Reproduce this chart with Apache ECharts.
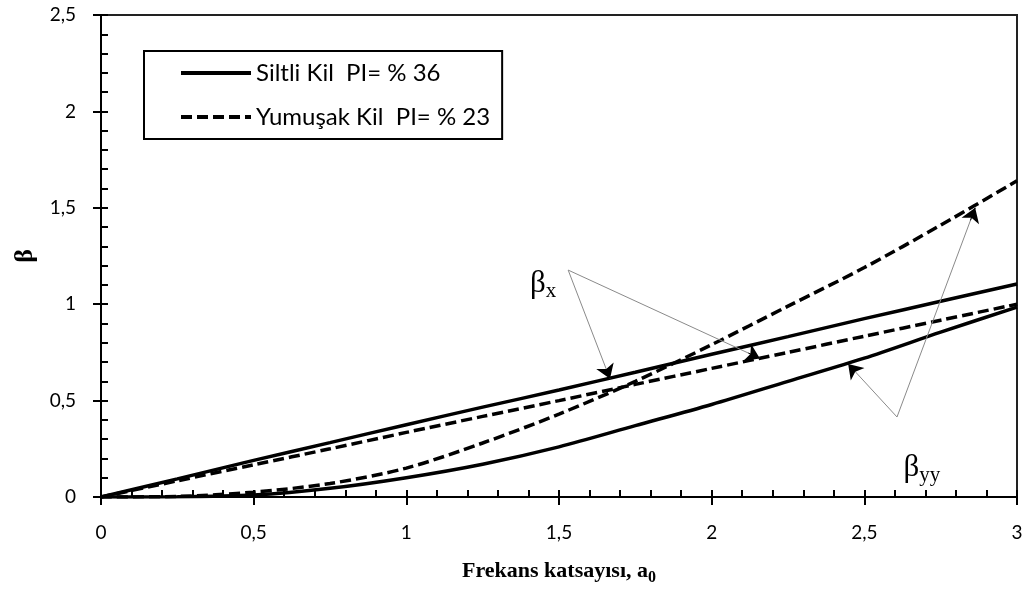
<!DOCTYPE html>
<html><head><meta charset="utf-8">
<script src="https://cdn.jsdelivr.net/npm/echarts@6/dist/echarts.min.js"></script>
<style>html,body{margin:0;padding:0;background:#fff}#c{width:1028px;height:601px}</style>
</head><body><div id="c"></div><script>
// Frequency coefficient a0
const freq = [0, 0.25, 0.5, 0.75, 1, 1.25, 1.5, 1.75, 2, 2.25, 2.5, 2.75, 3];
// Siltli Kil PI = % 36 (solid)
const siltliBetaX  = [0, 0.094, 0.19, 0.282, 0.375, 0.466, 0.555, 0.647, 0.74, 0.832, 0.925, 1.015, 1.105];
const siltliBetaYY = [0, 0.001, 0.01, 0.045, 0.10, 0.17, 0.26, 0.37, 0.48, 0.60, 0.72, 0.855, 0.985];
// Yumuşak Kil PI = % 23 (dashed)
const yumusakBetaX  = [0, 0.084, 0.167, 0.25, 0.335, 0.418, 0.50, 0.584, 0.667, 0.75, 0.834, 0.917, 1.0];
const yumusakBetaYY = [0, 0.003, 0.025, 0.07, 0.15, 0.28, 0.43, 0.60, 0.79, 0.99, 1.19, 1.41, 1.64];

const xTickLabels = ['0', '0,5', '1', '1,5', '2', '2,5', '3'];
const yTickLabels = ['0', '0,5', '1', '1,5', '2', '2,5'];
const seriesNames = ['Siltli Kil  PI= % 36', 'Yumuşak Kil  PI= % 23'];
const xAxisTitle = 'Frekans katsayısı, a';
const xAxisTitleSub = '0';
const yAxisTitle = 'β';

// annotation callouts (data coordinates)
const calloutX  = { text: 'x',  at: [1.405, 1.19], from: [1.53, 1.177],  to: [[1.667, 0.613], [2.158, 0.719]] };
const calloutYY = { text: 'yy', at: [2.628, 0.235], from: [2.607, 0.415], to: [[2.447, 0.69], [2.863, 1.50]] };

const pair = (xs, ys) => xs.map((x, i) => [x, ys[i]]);
const fmt = (labels) => (v) => { const i = Math.round(v / 0.5); return labels[i] !== undefined ? labels[i] : ''; };

const callouts = [calloutX, calloutYY];
const arrowLines = [];
const arrowHeads = [];
callouts.forEach(c => c.to.forEach(t => {
  arrowLines.push({ coords: [c.from, t] });
  const k = 0.06;
  arrowHeads.push({ coords: [[t[0] - k * (t[0] - c.from[0]), t[1] - k * (t[1] - c.from[1])], t] });
}));

const labelFont = 'Lato';
const serif = 'Liberation Serif';

const chart = echarts.init(document.getElementById('c'), null, { renderer: 'canvas' });
const solid = { color: '#000', width: 3.5, type: 'solid' };
const dashed = { color: '#000', width: 3.5, type: [11, 5] };

chart.setOption({
  animation: false,
  backgroundColor: '#fff',
  grid: { left: 101, right: 11, top: 15, bottom: 104, show: true, borderColor: '#222', borderWidth: 2, backgroundColor: 'transparent' },
  legend: {
    left: 144, top: 51, orient: 'vertical',
    data: seriesNames,
    borderColor: '#000', borderWidth: 2,
    padding: [10, 12, 10, 35],
    itemWidth: 70, itemHeight: 24, itemGap: 20,
    itemStyle: { color: 'rgba(0,0,0,0)', borderWidth: 0, opacity: 0 },
    lineStyle: { width: 4, color: '#000' },
    textStyle: { fontFamily: labelFont, fontSize: 24, color: '#000', lineHeight: 24 },
    selectedMode: false
  },
  xAxis: [{
    type: 'value', min: 0, max: 3, interval: 0.5,
    axisLine: { show: true, lineStyle: { color: '#000', width: 2 } },
    axisTick: { show: true, inside: false, length: 8, lineStyle: { color: '#000', width: 2 } },
    axisLabel: { formatter: fmt(xTickLabels), fontFamily: labelFont, fontSize: 19, color: '#000', margin: 26 },
    splitLine: { show: false },
    name: xAxisTitle + '{s|' + xAxisTitleSub + '}', nameLocation: 'middle', nameGap: 61,
    nameTextStyle: {
      fontFamily: serif, fontWeight: 'bold', fontSize: 22, color: '#000', lineHeight: 26, verticalAlign: 'top',
      rich: { s: { fontFamily: serif, fontWeight: 'bold', fontSize: 16, lineHeight: 16, padding: [12, 0, 0, 0], verticalAlign: 'top' } }
    }
  }, {
    type: 'value', min: 0, max: 3, interval: 0.1, position: 'bottom',
    axisLine: { show: false },
    axisTick: { show: true, inside: true, length: 7, lineStyle: { color: '#000', width: 2 } },
    axisLabel: { show: false }, splitLine: { show: false }
  }],
  yAxis: [{
    type: 'value', min: 0, max: 2.5, interval: 0.5,
    axisLine: { show: true, lineStyle: { color: '#000', width: 2 } },
    axisTick: { show: true, inside: false, length: 8, lineStyle: { color: '#000', width: 2 } },
    axisLabel: { formatter: fmt(yTickLabels), fontFamily: labelFont, fontSize: 19, color: '#000', margin: 25 },
    splitLine: { show: false },
    name: yAxisTitle, nameLocation: 'middle', nameGap: 62, nameRotate: 90,
    nameTextStyle: { fontFamily: serif, fontWeight: 'bold', fontSize: 26, color: '#000' }
  }, {
    type: 'value', min: 0, max: 2.5, interval: 0.1, position: 'left',
    axisLine: { show: false },
    axisTick: { show: true, inside: true, length: 7, lineStyle: { color: '#000', width: 2 } },
    axisLabel: { show: false }, splitLine: { show: false }
  }],
  series: [
    { name: seriesNames[0], type: 'line', data: pair(freq, siltliBetaX), showSymbol: false, symbol: 'none', smooth: 0.3, lineStyle: solid, itemStyle: { color: '#000' }, z: 3 },
    { name: seriesNames[0], type: 'line', data: pair(freq, siltliBetaYY), showSymbol: false, symbol: 'none', smooth: 0.3, lineStyle: solid, itemStyle: { color: '#000' }, z: 3 },
    { name: seriesNames[1], type: 'line', data: pair(freq, yumusakBetaX), showSymbol: false, symbol: 'none', smooth: 0.3, lineStyle: dashed, itemStyle: { color: '#000' }, z: 3 },
    { name: seriesNames[1], type: 'line', data: pair(freq, yumusakBetaYY), showSymbol: false, symbol: 'none', smooth: 0.3, lineStyle: dashed, itemStyle: { color: '#000' }, z: 3 },
    { type: 'lines', coordinateSystem: 'cartesian2d', data: arrowLines, symbol: ['none', 'none'],
      lineStyle: { color: '#8a8a8a', width: 1, opacity: 1, curveness: 0 }, silent: true, z: 4 },
    { type: 'lines', coordinateSystem: 'cartesian2d', data: arrowHeads, symbol: ['none', 'arrow'], symbolSize: [11, 14],
      lineStyle: { color: '#000', width: 1, opacity: 1, curveness: 0 }, silent: true, z: 5 },
    { type: 'scatter', symbolSize: 0, silent: true, z: 6,
      itemStyle: { opacity: 1, color: '#000' },
      data: callouts.map(c => ({ value: c.at, label: { formatter: 'β{s|' + c.text + '}' } })),
      label: {
        show: true, position: [0, 0], align: 'left', verticalAlign: 'bottom', color: '#000', opacity: 1,
        rich: {
          s: { fontFamily: serif, fontSize: 21, lineHeight: 21, padding: [13, 0, 0, 0], verticalAlign: 'top', color: '#000' }
        },
        fontFamily: serif, fontSize: 31, lineHeight: 32, verticalAlign: 'top'
      }
    }
  ]
});
</script></body></html>
